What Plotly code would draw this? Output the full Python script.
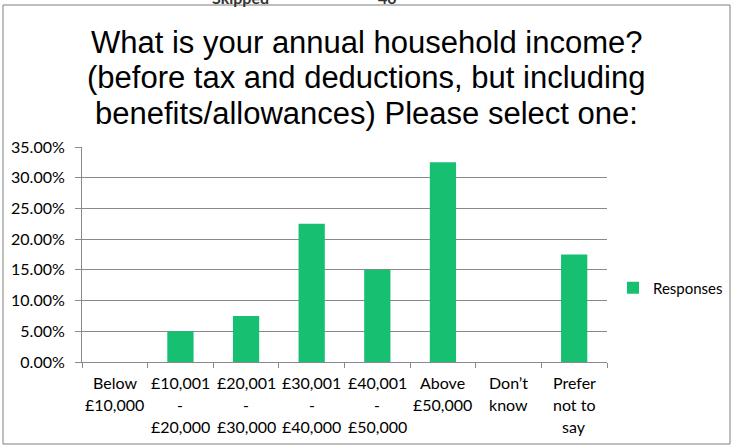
import plotly.graph_objects as go

# categories (one list per label line) and values
cat_ids = ["Below £10,000", "£10,001 - £20,000", "£20,001 - £30,000", "£30,001 - £40,000",
           "£40,001 - £50,000", "Above £50,000", "Don’t know", "Prefer not to say"]
cat_lines = [["Below", "£10,000"], ["£10,001", "-", "£20,000"], ["£20,001", "-", "£30,000"],
             ["£30,001", "-", "£40,000"], ["£40,001", "-", "£50,000"], ["Above", "£50,000"],
             ["Don’t", "know"], ["Prefer", "not to", "say"]]
responses = [0.0, 0.05, 0.075, 0.225, 0.15, 0.325, 0.0, 0.175]
y_ticks = [0, 0.05, 0.10, 0.15, 0.20, 0.25, 0.30, 0.35]
title_lines = ["What is your annual household income?",
               "(before tax and deductions, but including",
               "benefits/allowances) Please select one:"]

GREEN = "#17BF70"
GRID = "#898989"
FONT = "Lato, Carlito, Arial, sans-serif"
W, H = 732, 445
L, R, T, B = 82, 125, 147, 83
PW, PH = W - L - R, H - T - B

fig = go.Figure()
fig.add_trace(go.Bar(x=cat_ids, y=responses, name="Responses", marker_color=GREEN,
                     marker_line_width=0, showlegend=True))

annos = []
# multi-line category labels (Excel style line spacing)
for cid, lines in zip(cat_ids, cat_lines):
    for i, ln in enumerate(lines):
        annos.append(dict(x=cid, xref="x", y=0, yref="paper", text=ln, showarrow=False,
                          yanchor="middle", yshift=-20 - 22 * i,
                          font=dict(family=FONT, size=16, color="#000000")))

# title, one annotation per line for Excel-like spacing
for i, ln in enumerate(title_lines):
    annos.append(dict(x=0.5, xref="paper", y=1, yref="paper", text=ln, showarrow=False,
                      xanchor="center", yanchor="middle",
                      xshift=(W / 2 - (L + PW / 2)), yshift=(T - 42) - 35.5 * i,
                      font=dict(family="Liberation Sans, Arial, sans-serif", size=31,
                                color="#000000")))

# partially visible header row above the chart frame
for txt, px in [("Skipped", 210), ("40", 387)]:
    annos.append(dict(x=(px - L) / PW, xref="paper", y=(H - B - 9) / PH,
                      yref="paper", text="<b>" + txt + "</b>", showarrow=False,
                      yanchor="bottom", font=dict(family=FONT, size=16, color="#333333")))

fig.update_layout(
    width=W, height=H,
    margin=dict(l=L, r=R, t=T, b=B, autoexpand=False),
    paper_bgcolor="white", plot_bgcolor="white",
    bargap=0.6,
    showlegend=True,
    legend=dict(x=(613 - L) / PW, y=(H - B - 288) / PH, xanchor="left",
                yanchor="middle", font=dict(family=FONT, size=15, color="#000000"),
                bgcolor="rgba(0,0,0,0)", itemwidth=30),
    annotations=annos,
    shapes=[dict(type="rect", xref="paper", yref="paper",
                 x0=(3 - L) / PW, x1=(730 - L) / PW,
                 y0=(H - B - 444) / PH, y1=(H - B - 5) / PH,
                 line=dict(color="#7f7f7f", width=1), layer="below")],
)
fig.update_xaxes(showticklabels=False, ticks="outside", tickson="boundaries", ticklen=5,
                 tickcolor=GRID, showline=True, linecolor=GRID, linewidth=1, showgrid=False)
fig.update_yaxes(range=[0, 0.35], tickvals=y_ticks, tickformat=".2%", ticks="outside", ticklen=6,
                 ticklabelstandoff=7,
                 tickcolor=GRID, showline=True, linecolor=GRID, showgrid=True, gridcolor=GRID,
                 gridwidth=1, zeroline=False,
                 tickfont=dict(family=FONT, size=16, color="#000000"))

fig.write_html("out.html", config={"displayModeBar": False},
               post_script="document.body.style.margin='0';")
